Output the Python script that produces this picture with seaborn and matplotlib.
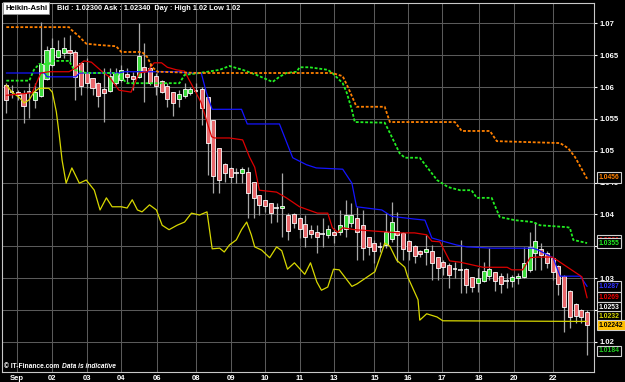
import matplotlib
matplotlib.use("Agg")
import matplotlib.pyplot as plt
import matplotlib.transforms as mtransforms
import seaborn as sns
import numpy as np
import pandas as pd

# ---------------- data ----------------
opens = [1.0603,1.0592,1.0592,1.0591,1.0591,1.0580,1.0586,1.0613,1.0635,1.0647,
         1.0653,1.0658,1.0655,1.0638,1.0622,1.0614,1.0606,1.0597,1.0594,1.0606,
         1.0611,1.0620,1.0617,1.0616,1.0631,1.0630,1.0617,1.0609,1.0602,1.0592,
         1.0581,1.0586,1.0591,1.0595,1.0597,1.0584,1.0548,1.0504,1.0479,1.0473,
         1.0466,1.0465,1.0467,1.0451,1.0430,1.0423,1.0418,1.0411,1.0410,1.0399,
         1.0401,1.0394,1.0385,1.0376,1.0372,1.0369,1.0368,1.0372,1.0372,1.0377,
         1.0387,1.0394,1.0383,1.0365,1.0355,1.0350,1.0352,1.0361,1.0374,1.0371,
         1.0358,1.0350,1.0343,1.0341,1.0343,1.0333,1.0325,1.0321,1.0315,1.0313,
         1.0314,1.0302,1.0292,1.0295,1.0303,1.0310,1.0303,1.0296,1.0295,1.0300,
         1.0302,1.0313,1.0339,1.0346,1.0339,1.0332,1.0319,1.0303,1.0280,1.0259,
         1.0250,1.0247]
highs = [1.0606,1.0603,1.0595,1.0595,1.0606,1.0606,1.0702,1.0664,1.0677,1.0674,
         1.0679,1.0682,1.0658,1.0639,1.0646,1.0614,1.0608,1.0630,1.0630,1.0630,
         1.0635,1.0630,1.0624,1.0701,1.0669,1.0638,1.0622,1.0611,1.0606,1.0592,
         1.0595,1.0606,1.0600,1.0606,1.0600,1.0584,1.0548,1.0504,1.0481,1.0474,
         1.0473,1.0474,1.0474,1.0451,1.0430,1.0423,1.0418,1.0418,1.0465,1.0402,
         1.0402,1.0396,1.0399,1.0383,1.0383,1.0394,1.0383,1.0379,1.0407,1.0423,
         1.0418,1.0412,1.0407,1.0365,1.0360,1.0357,1.0402,1.0420,1.0404,1.0372,
         1.0360,1.0352,1.0344,1.0368,1.0352,1.0333,1.0328,1.0324,1.0325,1.0360,
         1.0316,1.0302,1.0316,1.0325,1.0347,1.0310,1.0308,1.0308,1.0305,1.0308,
         1.0349,1.0372,1.0388,1.0355,1.0343,1.0333,1.0321,1.0305,1.0281,1.0261,
         1.0251,1.0250]
lows = [1.0559,1.0583,1.0580,1.0544,1.0551,1.0567,1.0584,1.0611,1.0631,1.0646,
        1.0646,1.0639,1.0580,1.0587,1.0598,1.0587,1.0569,1.0545,1.0592,1.0603,
        1.0608,1.0606,1.0595,1.0614,1.0576,1.0603,1.0587,1.0591,1.0569,1.0555,
        1.0569,1.0583,1.0587,1.0591,1.0540,1.0462,1.0434,1.0434,1.0451,1.0449,
        1.0449,1.0449,1.0394,1.0394,1.0399,1.0404,1.0387,1.0388,1.0365,1.0360,
        1.0379,1.0363,1.0349,1.0363,1.0339,1.0349,1.0363,1.0355,1.0368,1.0365,
        1.0380,1.0328,1.0328,1.0336,1.0324,1.0341,1.0347,1.0357,1.0325,1.0328,
        1.0328,1.0324,1.0333,1.0321,1.0297,1.0297,1.0305,1.0284,1.0300,1.0277,
        1.0277,1.0278,1.0278,1.0294,1.0297,1.0280,1.0277,1.0284,1.0286,1.0291,
        1.0300,1.0310,1.0313,1.0313,1.0316,1.0297,1.0273,1.0215,1.0222,1.0230,
        1.0230,1.0179]
closes = [1.0580,1.0591,1.0587,1.0570,1.0592,1.0592,1.0636,1.0658,1.0661,1.0658,
          1.0661,1.0653,1.0616,1.0602,1.0606,1.0598,1.0586,1.0591,1.0617,1.0622,
          1.0627,1.0616,1.0613,1.0649,1.0625,1.0606,1.0602,1.0592,1.0581,1.0575,
          1.0589,1.0597,1.0597,1.0594,1.0567,1.0512,1.0460,1.0454,1.0465,1.0459,
          1.0465,1.0471,1.0434,1.0426,1.0415,1.0413,1.0402,1.0409,1.0413,1.0374,
          1.0387,1.0377,1.0365,1.0369,1.0365,1.0368,1.0377,1.0368,1.0383,1.0399,
          1.0399,1.0372,1.0347,1.0349,1.0343,1.0349,1.0372,1.0388,1.0368,1.0346,
          1.0343,1.0335,1.0338,1.0346,1.0324,1.0316,1.0317,1.0305,1.0313,1.0312,
          1.0289,1.0286,1.0300,1.0311,1.0314,1.0295,1.0291,1.0295,1.0302,1.0303,
          1.0324,1.0349,1.0358,1.0336,1.0324,1.0310,1.0291,1.0255,1.0239,1.0240,
          1.0239,1.0226]

orange_x = [0, 10.9, 11.3, 12.7, 13.9, 16.1, 19.1, 20.0, 23.6, 24.5, 25.4, 26.3, 33.6, 56.7,
            58.5, 59.4, 60.9, 65.8, 66.7, 78.0, 79.2, 84.1, 85.3, 96.3, 97.7, 98.9, 101.0]
orange_y = [1.0694, 1.0694, 1.0690, 1.0679, 1.0668, 1.0666, 1.0664, 1.0655, 1.0655, 1.0647,
            1.0631, 1.0624, 1.0622, 1.0622, 1.0617, 1.0600, 1.0569, 1.0569, 1.0545, 1.0545,
            1.0531, 1.0531, 1.0515, 1.0512, 1.0504, 1.0490, 1.0456]

green_x = [0, 4.0, 4.8, 5.7, 7.4, 8.0, 10.9, 11.8, 13.9, 19.1, 21.0, 30.1, 31.0, 33.6, 37.1,
           38.8, 41.1, 43.5, 46.3, 47.5, 48.7, 50.5, 51.0, 52.7, 55.9, 56.7, 58.5, 59.2, 60.1,
           60.6, 65.8, 66.7, 68.4, 69.3, 71.9, 74.9, 76.8, 78.9, 80.9, 81.8, 84.4, 84.9, 85.8,
           88.4, 91.6, 92.8, 97.5, 98.0, 98.6, 101.0]
green_y = [1.0610, 1.0610, 1.0627, 1.0636, 1.0636, 1.0641, 1.0641, 1.0627, 1.0622, 1.0622,
           1.0606, 1.0606, 1.0619, 1.0622, 1.0627, 1.0633, 1.0627, 1.0619, 1.0608, 1.0616,
           1.0622, 1.0624, 1.0631, 1.0631, 1.0627, 1.0622, 1.0606, 1.0591, 1.0564, 1.0545,
           1.0544, 1.0528, 1.0496, 1.0489, 1.0489, 1.0454, 1.0443, 1.0438, 1.0438, 1.0426,
           1.0426, 1.0415, 1.0396, 1.0391, 1.0388, 1.0383, 1.0380, 1.0379, 1.0360, 1.0355]

blue_x = [0, 6.6, 7.1, 12.1, 12.7, 19.6, 20.5, 30.1, 31.3, 33.9, 34.8, 35.8, 40.9, 41.9, 47.5,
          49.8, 52.2, 53.9, 58.5, 60.1, 60.9, 65.3, 67.0, 70.7, 72.8, 74.0, 76.3, 78.3, 80.1,
          84.6, 91.6, 92.5, 95.1, 96.3, 99.8, 101.0]
blue_y = [1.0622, 1.0622, 1.0616, 1.0616, 1.0622, 1.0622, 1.0624, 1.0624, 1.0622, 1.0622,
          1.0591, 1.0565, 1.0565, 1.0542, 1.0542, 1.0489, 1.0478, 1.0473, 1.0471, 1.0449,
          1.0412, 1.0407, 1.0397, 1.0393, 1.0391, 1.0363, 1.0357, 1.0352, 1.0349, 1.0347,
          1.0347, 1.0344, 1.0332, 1.0303, 1.0303, 1.0287]

red_x = [0, 4.5, 6.0, 7.4, 10.9, 12.1, 13.5, 14.8, 16.7, 17.9, 19.6, 21.7, 22.2, 23.1, 24.5,
         25.7, 27.0, 28.0, 29.6, 31.0, 31.8, 33.0, 33.9, 34.8, 35.7, 36.2, 38.8, 41.1, 42.3,
         43.2, 44.0, 47.0, 48.7, 51.0, 54.1, 55.9, 56.7, 57.6, 58.5, 60.6, 68.4, 71.0, 73.1,
         74.0, 75.4, 77.1, 78.9, 82.9, 87.1, 87.9, 89.8, 91.1, 92.3, 94.9, 95.8, 100.1, 101.0]
red_y = [1.0587, 1.0591, 1.0622, 1.0624, 1.0624, 1.0630, 1.0641, 1.0639, 1.0624, 1.0616,
         1.0595, 1.0592, 1.0603, 1.0622, 1.0624, 1.0638, 1.0638, 1.0631, 1.0627, 1.0625,
         1.0611, 1.0591, 1.0575, 1.0548, 1.0522, 1.0520, 1.0520, 1.0517, 1.0490, 1.0474,
         1.0438, 1.0435, 1.0426, 1.0412, 1.0402, 1.0402, 1.0379, 1.0372, 1.0379, 1.0376,
         1.0371, 1.0371, 1.0368, 1.0358, 1.0357, 1.0327, 1.0325, 1.0317, 1.0317, 1.0313,
         1.0313, 1.0332, 1.0333, 1.0333, 1.0328, 1.0302, 1.0269]

yellow_x = [0, 1.0, 2.2, 3.1, 4.0, 4.8, 5.7, 7.4, 8.0, 8.7, 9.2, 9.7, 10.4, 11.4, 12.7, 13.9,
            15.3, 16.3, 17.4, 18.4, 20.0, 21.0, 21.9, 22.8, 23.6, 24.9, 26.1, 27.1, 28.3, 29.7,
            31.0, 32.2, 33.6, 34.9, 35.8, 37.1, 37.9, 38.8, 40.0, 40.9, 41.8, 42.6, 43.2, 44.4,
            45.8, 47.0, 47.9, 48.9, 50.1, 51.9, 52.9, 54.0, 54.8, 55.9, 56.9, 57.9, 60.1, 61.0,
            62.8, 64.1, 65.3, 65.8, 66.7, 67.9, 69.3, 69.8, 71.0, 71.6, 71.9, 73.1, 74.9, 75.9,
            101.0]
yellow_y = [1.0603, 1.0592, 1.0584, 1.0575, 1.0580, 1.0592, 1.0598, 1.0598, 1.0592, 1.0561,
            1.0525, 1.0485, 1.0449, 1.0473, 1.0449, 1.0454, 1.0438, 1.0407, 1.0426, 1.0412,
            1.0412, 1.0410, 1.0423, 1.0407, 1.0404, 1.0415, 1.0407, 1.0383, 1.0376, 1.0383,
            1.0388, 1.0402, 1.0399, 1.0404, 1.0346, 1.0347, 1.0341, 1.0352, 1.0360, 1.0376,
            1.0388, 1.0368, 1.0349, 1.0344, 1.0332, 1.0349, 1.0343, 1.0314, 1.0324, 1.0306,
            1.0324, 1.0294, 1.0281, 1.0286, 1.0314, 1.0313, 1.0287, 1.0291, 1.0302, 1.0310,
            1.0341, 1.0355, 1.0350, 1.0328, 1.0317, 1.0302, 1.0278, 1.0266, 1.0234, 1.0244,
            1.0239, 1.0233, 1.0232]

date_pos = [1.9, 7.9, 14.0, 20.0, 26.2, 33.0, 39.0, 45.0, 51.0, 57.0, 64.0, 69.8, 75.8,
            82.2, 88.3, 95.0]
date_labels = ["Sep", "02", "03", "04", "06", "08", "09", "10", "11", "13", "15", "16",
               "17", "18", "20", "22"]
ytick_vals = [1.02, 1.025, 1.03, 1.035, 1.04, 1.045, 1.05, 1.055, 1.06, 1.065, 1.07]
ytick_labels = ["1.02", "1.025", "1.03", "1.035", "1.04", "1.045", "1.05", "1.055", "1.06",
                "1.065", "1.07"]

box_vals = [1.0458, 1.0359, 1.0355, 1.0287, 1.0270, 1.0254, 1.0240, 1.0226, 1.0186]
box_texts = ["1.0456", "1.0361", "1.0355", "1.0287", "1.0269", "1.0253", "1.0232", "1.02242",
             "1.0184"]
header_name = "Heikin-Ashi"
header_quote = "Bid : 1.02300 Ask : 1.02340  Day : High 1.02 Low 1.02"
credit_1 = "\u00a9 IT-Finance.com"
credit_2 = "Data is indicative"

# ---------------- styling ----------------
sns.set_theme(style="dark")
plt.rcParams["font.family"] = ["Liberation Sans", "DejaVu Sans"]

W, H = 625, 382
fig = plt.figure(figsize=(W / 100, H / 100), dpi=100, facecolor="black")
ax = fig.add_axes([2 / W, (H - 372) / H, (594 - 2) / W, (372 - 3) / H])
ax.set_facecolor("black")

o = np.array(opens); c = np.array(closes); hi = np.array(highs); lo = np.array(lows)
idx = np.arange(len(o))
body_lo = np.minimum(o, c)
body_h = np.abs(c - o)
doji = body_h < 0.00025
col = np.where(c >= o, "#3ddc3d", "#e8686c")

# wicks
ax.vlines(idx, lo, hi, color="#a8a8a8", lw=0.9, zorder=2)
# bodies
nd = ~doji
ax.bar(idx[nd], body_h[nd], bottom=body_lo[nd], width=0.72, color=col[nd],
       edgecolor="white", linewidth=0.6, zorder=3)
mid = (o + c) / 2
ax.hlines(mid[doji], idx[doji] - 0.38, idx[doji] + 0.38, color="white", lw=1.1, zorder=3)

# indicator lines
line_specs = [
    (yellow_x, yellow_y, "#d8d800", "-", 0.9),
    (blue_x, blue_y, "#1414ff", "-", 0.9),
    (red_x, red_y, "#dd0000", "-", 0.9),
    (green_x, green_y, "#22ee22", (0, (1.6, 1.0)), 1.3),
    (orange_x, orange_y, "#ff8000", (0, (1.6, 1.0)), 1.3),
]
for xs, ys, colr, ls, lw in line_specs:
    df = pd.DataFrame({"i": xs, "v": ys})
    sns.lineplot(data=df, x="i", y="v", ax=ax, color=colr, linestyle=ls, lw=lw,
                 estimator=None, sort=False, zorder=4)

ax.set_xlim(-0.75, 102.2)
ax.set_ylim(1.01526, 1.07319)
ax.set_xlabel("")
ax.set_ylabel("")

ax.set_yticks(ytick_vals)
ax.set_yticklabels(ytick_labels, fontweight="bold")
ax.yaxis.tick_right()
ax.tick_params(axis="y", colors="white", length=2.5, width=0.8, labelsize=5.5, pad=1.2,
               right=True, left=False)
ax.set_xticks(date_pos)
ax.set_xticklabels(date_labels, fontweight="bold")
ax.tick_params(axis="x", length=0, labelcolor="white", labelsize=5.5, pad=2.5)
ax.grid(True, color="#5a5a5a", lw=0.75)
for s in ax.spines.values():
    s.set_visible(True)
    s.set_color("#c8c8c8")
    s.set_linewidth(0.8)

# value boxes on the right
box_text_colors = ["#ff8000", "#ee0000", "#22ee22", "#3030ff", "#ee0000", "white",
                   "#d8d800", "black", "#22cc22"]
box_fills = ["black"] * 7 + ["#ffc000", "black"]
trans = mtransforms.blended_transform_factory(ax.transAxes, ax.transData)
for v, t, tc, fc in zip(box_vals, box_texts, box_text_colors, box_fills):
    ax.text(1 + 4.5 / 592, v, t, transform=trans, color=tc, fontsize=4.9,
            fontweight="bold", va="center", ha="left", clip_on=False, zorder=10,
            bbox=dict(boxstyle="square,pad=0.24", fc=fc, ec="#d0d0d0", lw=0.8))

# header
fig.text(5 / W, 1 - 8 / H, header_name, color="black", fontsize=5.5, va="center",
         ha="left", fontweight="bold",
         bbox=dict(boxstyle="square,pad=0.3", fc="white", ec="#909090", lw=0.6))
fig.text(57 / W, 1 - 8 / H, header_quote, color="white", fontsize=5.3, va="center",
         ha="left", fontweight="bold")

# credit
fig.text(4 / W, 1 - 366 / H, credit_1, color="white", fontsize=4.8, va="center", ha="left",
         fontweight="bold")
fig.text(62 / W, 1 - 366 / H, credit_2, color="white", fontsize=4.8, va="center", ha="left",
         style="italic", fontweight="bold")

fig.savefig("out.png", dpi=100, facecolor="black")
